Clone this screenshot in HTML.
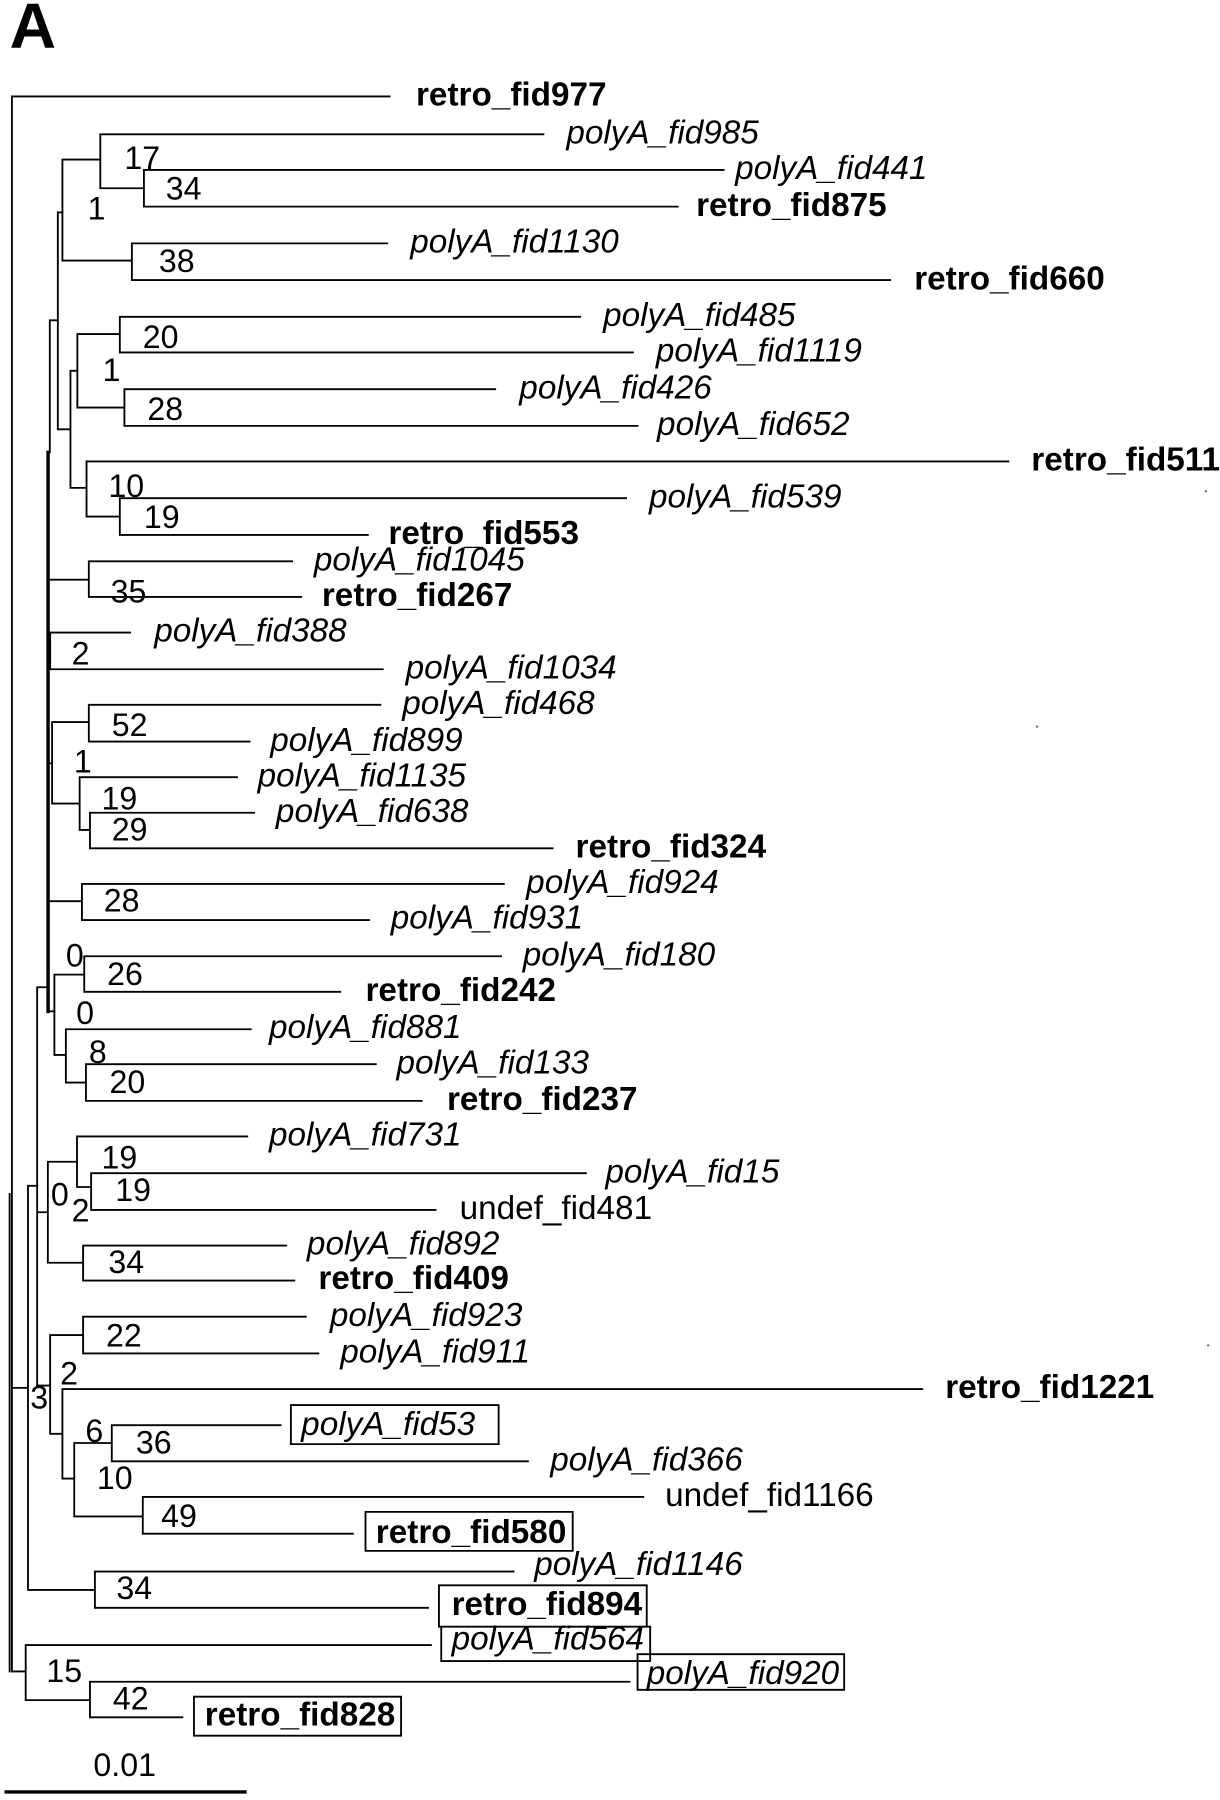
<!DOCTYPE html>
<html><head><meta charset="utf-8"><style>
html,body{margin:0;padding:0;background:#fff;}
svg{display:block;}
text{font-family:"Liberation Sans",Arial,sans-serif;fill:#000;font-size:29px;}
.b{font-weight:bold;}
.i{font-style:italic;}
.n{font-size:28px;}
</style></head><body>
<svg width="1220" height="1800" viewBox="0 0 1062 1568" xmlns="http://www.w3.org/2000/svg">
<text x="8" y="42" class="b" style="font-size:56px">A</text>
<g stroke="#000" stroke-width="1.6" fill="none" stroke-linecap="square">
<path d="M10 84V1456 M10 84H339"/>
<path d="M8 1040V1456"/>
<!-- top clade -->
<path d="M87 117V164 M87 117H473 M87 164H125 M125 148V180 M125 148H630 M125 180H590"/>
<path d="M54 139V227 M54 139H87 M54 227H114.5 M114.5 212V244 M114.5 212H337 M114.5 244H775"/>
<path d="M50 185V374 M50 185H54 M50 374H61 M61 323V425 M61 323H67 M61 425H75"/>
<path d="M67 291V355 M67 291H104 M67 355H108 M104 276V307 M104 276H505 M104 307H551 M108 339V371 M108 339H431 M108 371H555"/>
<path d="M75 402V450 M75 402H878 M75 450H104 M104 434V466 M104 434H545 M104 466H320"/>
<path d="M43 279V394 M43 279H50"/>
<path d="M41.5 394V881" stroke-width="3"/>
<path d="M77 489V520 M77 489H254 M77 520H262 M41.5 505H77"/>
<path d="M43.3 551V583 M43.3 551H113 M43.3 583H333 M41.5 567H43.3"/>
<path d="M45 629V700 M41.5 665H45 M45 629H77 M77 614V646 M77 614H331 M77 646H217 M45 700H69 M69 677V723 M69 677H206 M69 723H78 M78 708V739 M78 708H221 M78 739H481"/>
<path d="M42 785V881 M42 785H71 M71 770V801.5 M71 770H438.5 M71 801.5H321 M42 881H47"/>
<path d="M47 849V919 M47 849H73 M73 833V864 M73 833H436 M73 864H296 M47 919H57 M57 896.6V943 M57 896.6H218 M57 943H74.5 M74.5 927V959 M74.5 927H327 M74.5 959H367"/>
<path d="M32 860V1207 M32 860H41.5 M32 1056H41.3 M41.3 1012V1100 M41.3 1012H66.7 M66.7 990V1034 M66.7 990H215 M66.7 1034H79 M79 1022V1054 M79 1022H510 M79 1054H379 M41.3 1100H72 M72 1085V1115.5 M72 1085H249 M72 1115.5H256"/>
<path d="M32 1207H43.3 M43.3 1163V1249 M43.3 1163H72 M72 1147V1179 M72 1147H266 M72 1179H277 M43.3 1249H54 M54 1210V1288 M54 1210H803 M54 1288H64.3 M64.3 1257V1321 M64.3 1257H97 M97 1241.5V1273 M97 1241.5H244 M97 1273H459.5 M64.3 1321H124 M124 1304V1336 M124 1304H560 M124 1336H307"/>
<path d="M24 1033V1385 M24 1033H32 M10 1209H24 M24 1385H82.3 M82.3 1369V1400.6 M82.3 1369H447 M82.3 1400.6H372.5"/>
<path d="M10 1456H22 M22 1433V1481 M22 1433H375 M22 1481H78 M78 1465V1496 M78 1465H548 M78 1496H158.5"/>
<path d="M253 1224H434V1258H253Z M318 1317H498.5V1351H318Z M382 1381H563V1417H382Z M384 1417H566V1447H384Z M555 1441H735V1472H555Z M168.6 1478H349V1512H168.6Z"/>
<path d="M5 1561H213" stroke-width="3"/>
</g>
<circle cx="1050" cy="428" r="1" fill="#666"/>
<circle cx="903" cy="633" r="1" fill="#666"/>
<circle cx="1052" cy="1172" r="1" fill="#666"/>
<!-- leaf labels -->
<text x="362" y="92" class="b">retro_fid977</text>
<text x="493" y="125" class="i">polyA_fid985</text>
<text x="640" y="156" class="i">polyA_fid441</text>
<text x="606" y="188" class="b">retro_fid875</text>
<text x="357" y="220" class="i">polyA_fid1130</text>
<text x="796" y="252" class="b">retro_fid660</text>
<text x="525" y="284" class="i">polyA_fid485</text>
<text x="571" y="315" class="i">polyA_fid1119</text>
<text x="452" y="347" class="i">polyA_fid426</text>
<text x="572" y="379" class="i">polyA_fid652</text>
<text x="898" y="410" class="b">retro_fid511</text>
<text x="565" y="442" class="i">polyA_fid539</text>
<text x="338" y="474" class="b">retro_fid553</text>
<text x="273" y="497" class="i">polyA_fid1045</text>
<text x="280" y="528" class="b">retro_fid267</text>
<text x="134" y="559" class="i">polyA_fid388</text>
<text x="353" y="591" class="i">polyA_fid1034</text>
<text x="350" y="622" class="i">polyA_fid468</text>
<text x="235" y="654" class="i">polyA_fid899</text>
<text x="224" y="685" class="i">polyA_fid1135</text>
<text x="240" y="716" class="i">polyA_fid638</text>
<text x="501" y="747" class="b">retro_fid324</text>
<text x="458" y="778" class="i">polyA_fid924</text>
<text x="340" y="809" class="i">polyA_fid931</text>
<text x="455" y="841" class="i">polyA_fid180</text>
<text x="318" y="872" class="b">retro_fid242</text>
<text x="234" y="904" class="i">polyA_fid881</text>
<text x="345" y="935" class="i">polyA_fid133</text>
<text x="389" y="967" class="b">retro_fid237</text>
<text x="234" y="998" class="i">polyA_fid731</text>
<text x="527" y="1030" class="i">polyA_fid15</text>
<text x="400" y="1062">undef_fid481</text>
<text x="267" y="1093" class="i">polyA_fid892</text>
<text x="277" y="1123" class="b">retro_fid409</text>
<text x="287" y="1155" class="i">polyA_fid923</text>
<text x="296" y="1187" class="i">polyA_fid911</text>
<text x="823" y="1218" class="b">retro_fid1221</text>
<text x="262" y="1250" class="i">polyA_fid53</text>
<text x="479" y="1281" class="i">polyA_fid366</text>
<text x="579" y="1312">undef_fid1166</text>
<text x="327" y="1344" class="b">retro_fid580</text>
<text x="465" y="1372" class="i">polyA_fid1146</text>
<text x="393" y="1407" class="b">retro_fid894</text>
<text x="393" y="1437" class="i">polyA_fid564</text>
<text x="563" y="1467" class="i">polyA_fid920</text>
<text x="178" y="1503" class="b">retro_fid828</text>
<!-- bootstrap numbers -->
<g class="n">
<text x="108" y="147" class="n">17</text>
<text x="144" y="174" class="n">34</text>
<text x="76" y="191" class="n">1</text>
<text x="138" y="237" class="n">38</text>
<text x="124" y="303" class="n">20</text>
<text x="89" y="332" class="n">1</text>
<text x="128" y="366" class="n">28</text>
<text x="94" y="433" class="n">10</text>
<text x="125" y="460" class="n">19</text>
<text x="96" y="525" class="n">35</text>
<text x="62" y="579" class="n">2</text>
<text x="97" y="641" class="n">52</text>
<text x="64" y="673" class="n">1</text>
<text x="88" y="705" class="n">19</text>
<text x="97" y="732" class="n">29</text>
<text x="90" y="794" class="n">28</text>
<text x="57" y="842" class="n">0</text>
<text x="93" y="858" class="n">26</text>
<text x="66" y="892" class="n">0</text>
<text x="77" y="926" class="n">8</text>
<text x="95" y="952" class="n">20</text>
<text x="88" y="1018" class="n">19</text>
<text x="100" y="1046" class="n">19</text>
<text x="44" y="1050" class="n">0</text>
<text x="62" y="1064" class="n">2</text>
<text x="94" y="1109" class="n">34</text>
<text x="92" y="1173" class="n">22</text>
<text x="52" y="1206" class="n">2</text>
<text x="26" y="1227" class="n">3</text>
<text x="74" y="1256" class="n">6</text>
<text x="118" y="1266" class="n">36</text>
<text x="84" y="1297" class="n">10</text>
<text x="140" y="1330" class="n">49</text>
<text x="101" y="1393" class="n">34</text>
<text x="40" y="1465" class="n">15</text>
<text x="98" y="1489" class="n">42</text>
<text x="81" y="1547" class="n">0.01</text>
</g>
</svg>
</body></html>
